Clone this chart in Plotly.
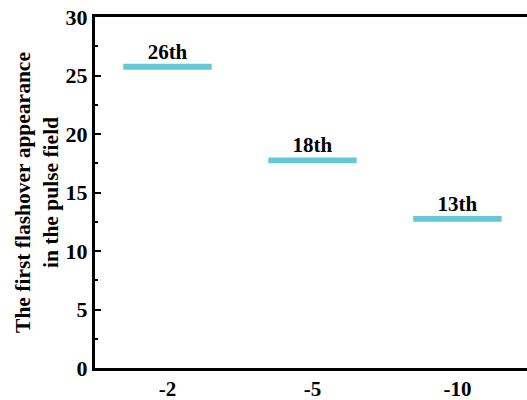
import plotly.graph_objects as go

# Pulse-field voltage levels (category labels) and the shot number of first flashover
voltages = ["-2", "-5", "-10"]
first_flashover = [26, 18, 13]
labels = ["26th", "18th", "13th"]

bar_color = "#64C9D5"
font_family = "Liberation Serif, Times New Roman, serif"
thickness = 0.5  # thickness of each level bar, in axis units

fig = go.Figure()

# Each result is shown as a short thick level bar whose top edge sits at the value
fig.add_trace(go.Bar(
    x=voltages,
    y=[thickness] * len(first_flashover),
    base=[v - thickness for v in first_flashover],
    width=0.61,
    marker=dict(color=bar_color, line=dict(width=0)),
    hoverinfo="skip",
    showlegend=False,
))

# Ordinal labels above each level bar
fig.add_trace(go.Scatter(
    x=voltages,
    y=first_flashover,
    mode="text",
    text=labels,
    textposition="top center",
    textfont=dict(family=font_family, size=21, color="black", weight="bold"),
    showlegend=False,
    hoverinfo="skip",
))

fig.update_layout(
    width=527,
    height=400,
    margin=dict(l=95, r=0, t=17, b=32),
    plot_bgcolor="white",
    paper_bgcolor="white",
    font=dict(family=font_family, color="black"),
    xaxis=dict(
        type="category",
        range=[-0.5, 2.48],
        automargin=False,
        showline=True,
        linewidth=3,
        linecolor="black",
        mirror=True,
        ticks="",
        showgrid=False,
        zeroline=False,
        tickfont=dict(family=font_family, size=21, color="black", weight="bold"),
    ),
    yaxis=dict(
        range=[0, 30],
        dtick=5,
        automargin=False,
        showline=True,
        linewidth=3,
        linecolor="black",
        mirror=False,
        ticks="inside",
        ticklen=6,
        tickwidth=2,
        tickcolor="black",
        minor=dict(ticks="inside", dtick=2.5, ticklen=3, tickwidth=2, tickcolor="black"),
        showgrid=False,
        zeroline=False,
        tickfont=dict(family=font_family, size=22, color="black", weight="bold"),
        title=dict(
            text="The first flashover appearance<br>in the pulse field",
            font=dict(family=font_family, size=21.5, color="black", weight="bold"),
            standoff=2,
        ),
    ),
)

fig.write_html("out.html")
